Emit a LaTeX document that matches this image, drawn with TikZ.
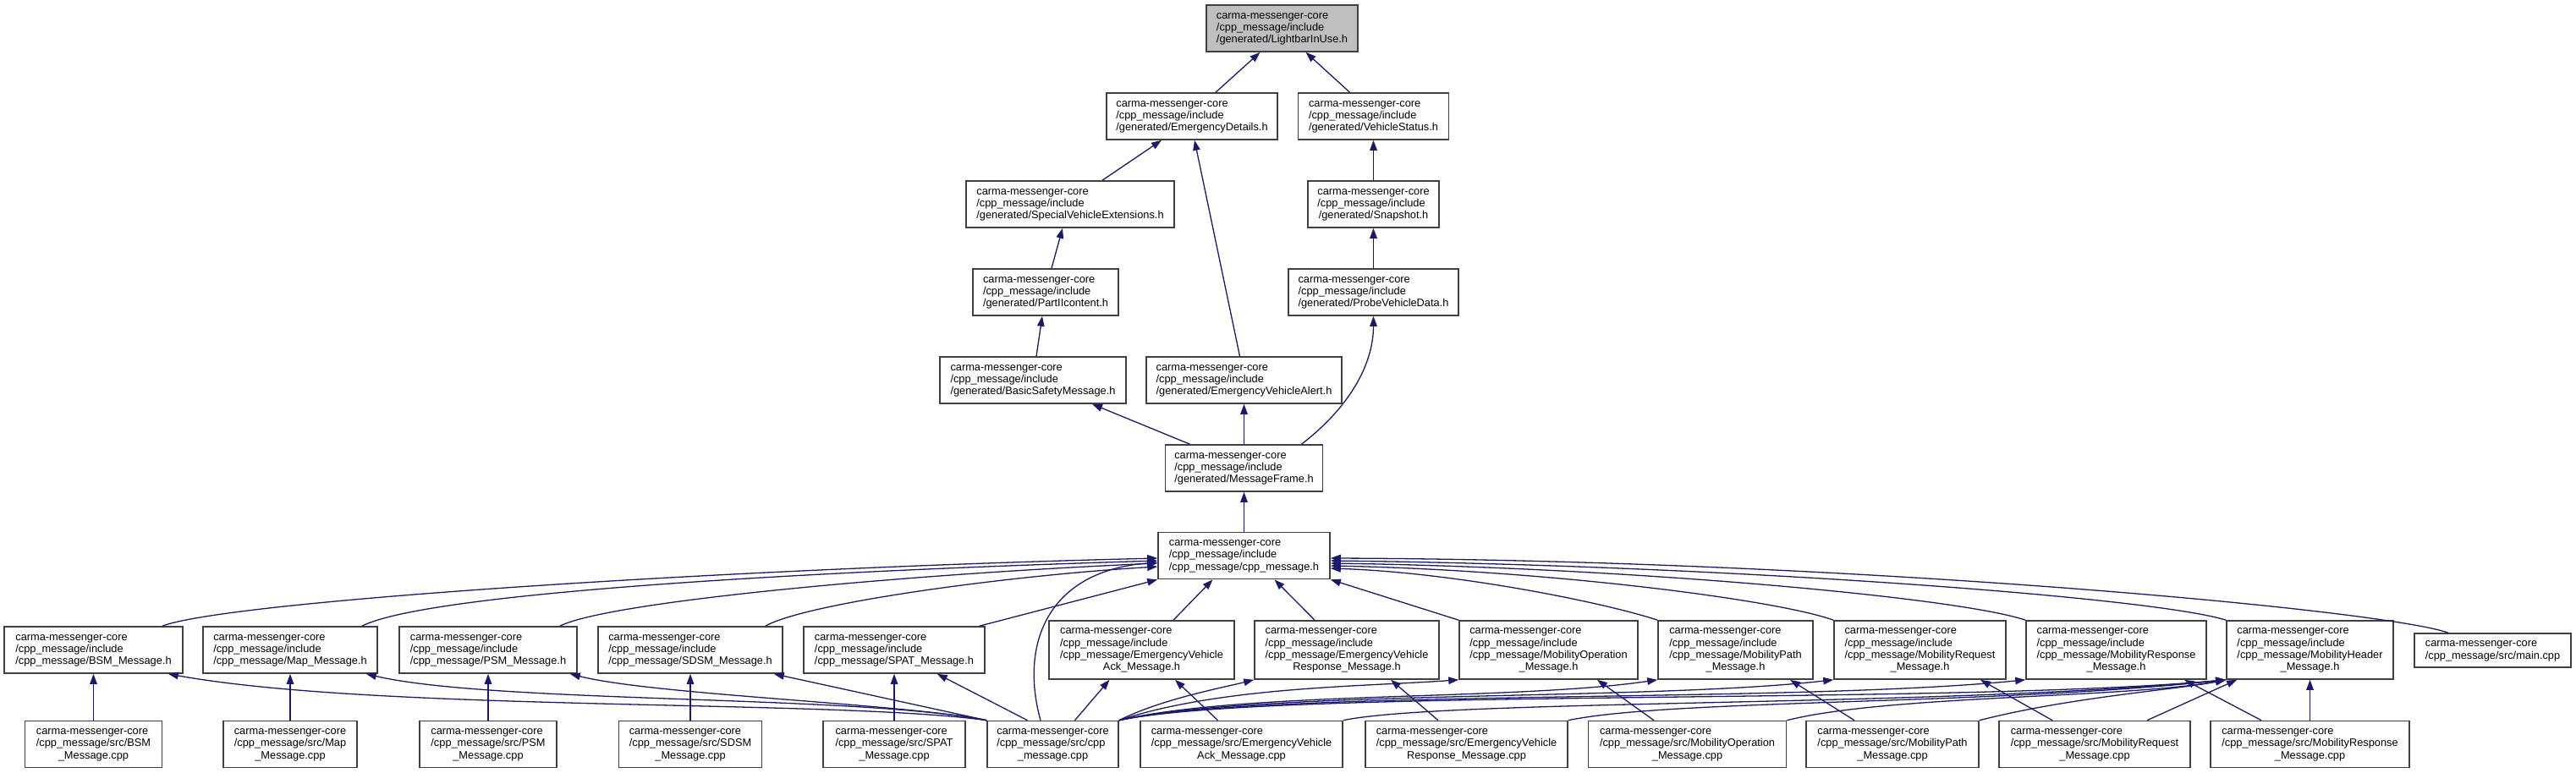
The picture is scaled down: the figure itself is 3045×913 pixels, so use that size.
\documentclass[tikz,border=0pt]{standalone}
\usepackage{fontspec}
\setmainfont{Liberation Sans}
\usepackage{tikz}
\usetikzlibrary{arrows.meta,calc}
\definecolor{incblue}{HTML}{191970}
\newcommand{\flab}[2]{\begin{tabular}{@{}l@{}}#1\\\multicolumn{1}{@{}c@{}}{#2}\end{tabular}}
\tikzset{
  hfile/.style = {rectangle, draw=black!75, line width=1.6pt, fill=white, inner sep=0pt,
                  minimum height=55pt, font=\fontsize{12.8pt}{14.3pt}\selectfont},
  hroot/.style = {hfile, fill=black!25},
  hfour/.style = {hfile, minimum height=69pt},
  htwo/.style  = {hfile, minimum height=40pt},
  inc/.style   = {-{Triangle[length=12pt,width=8.5pt]}, line width=1.3pt, incblue},
}
\begin{document}
\begin{tikzpicture}[x=1pt, y=-1pt]
  \useasboundingbox (0,0) rectangle (3045,913);
  % generated headers
  \node[hroot, minimum width=179pt] (lb) at (1515.5,33.5) {\flab{carma-messenger-core\\/cpp\_message/include}{/generated/LightbarInUse.h}};
  \node[hfile, minimum width=202pt] (ed) at (1409,137.5) {\flab{carma-messenger-core\\/cpp\_message/include}{/generated/EmergencyDetails.h}};
  \node[hfile, minimum width=178pt] (vs) at (1623.5,137.5) {\flab{carma-messenger-core\\/cpp\_message/include}{/generated/VehicleStatus.h}};
  \node[hfile, minimum width=246pt] (sve) at (1265,241.5) {\flab{carma-messenger-core\\/cpp\_message/include}{/generated/SpecialVehicleExtensions.h}};
  \node[hfile, minimum width=155pt] (snap) at (1623.5,241.5) {\flab{carma-messenger-core\\/cpp\_message/include}{/generated/Snapshot.h}};
  \node[hfile, minimum width=172pt] (p2) at (1236,345.5) {\flab{carma-messenger-core\\/cpp\_message/include}{/generated/PartIIcontent.h}};
  \node[hfile, minimum width=201pt] (pvd) at (1623.5,345.5) {\flab{carma-messenger-core\\/cpp\_message/include}{/generated/ProbeVehicleData.h}};
  \node[hfile, minimum width=220pt] (bsmsg) at (1221,449.5) {\flab{carma-messenger-core\\/cpp\_message/include}{/generated/BasicSafetyMessage.h}};
  \node[hfile, minimum width=231pt] (eva) at (1470.5,449.5) {\flab{carma-messenger-core\\/cpp\_message/include}{/generated/EmergencyVehicleAlert.h}};
  \node[hfile, minimum width=186pt] (mf) at (1470.5,553.5) {\flab{carma-messenger-core\\/cpp\_message/include}{/generated/MessageFrame.h}};
  \node[hfile, minimum width=203pt] (cpph) at (1470.5,657) {\flab{carma-messenger-core\\/cpp\_message/include}{/cpp\_message/cpp\_message.h}};
  % message headers
  \node[hfile, minimum width=211pt] (bsmh) at (110.5,768.5) {\flab{carma-messenger-core\\/cpp\_message/include}{/cpp\_message/BSM\_Message.h}};
  \node[hfile, minimum width=206pt] (maph) at (343,768.5) {\flab{carma-messenger-core\\/cpp\_message/include}{/cpp\_message/Map\_Message.h}};
  \node[hfile, minimum width=210pt] (psmh) at (577,768.5) {\flab{carma-messenger-core\\/cpp\_message/include}{/cpp\_message/PSM\_Message.h}};
  \node[hfile, minimum width=218pt] (sdsmh) at (816,768.5) {\flab{carma-messenger-core\\/cpp\_message/include}{/cpp\_message/SDSM\_Message.h}};
  \node[hfile, minimum width=214pt] (spath) at (1057,768.5) {\flab{carma-messenger-core\\/cpp\_message/include}{/cpp\_message/SPAT\_Message.h}};
  \node[hfour, minimum width=219pt] (evackh) at (1349.5,768.5) {\flab{carma-messenger-core\\/cpp\_message/include\\/cpp\_message/EmergencyVehicle}{Ack\_Message.h}};
  \node[hfour, minimum width=218pt] (evresph) at (1592,768.5) {\flab{carma-messenger-core\\/cpp\_message/include\\/cpp\_message/EmergencyVehicle}{Response\_Message.h}};
  \node[hfour, minimum width=211pt] (mobh) at (1830.5,768.5) {\flab{carma-messenger-core\\/cpp\_message/include\\/cpp\_message/MobilityOperation}{\_Message.h}};
  \node[hfour, minimum width=183pt] (mobpathh) at (2051.5,768.5) {\flab{carma-messenger-core\\/cpp\_message/include\\/cpp\_message/MobilityPath}{\_Message.h}};
  \node[hfour, minimum width=203pt] (mobreqh) at (2269.5,768.5) {\flab{carma-messenger-core\\/cpp\_message/include\\/cpp\_message/MobilityRequest}{\_Message.h}};
  \node[hfour, minimum width=213pt] (mobresph) at (2501.5,768.5) {\flab{carma-messenger-core\\/cpp\_message/include\\/cpp\_message/MobilityResponse}{\_Message.h}};
  \node[hfour, minimum width=197pt] (mobhdrh) at (2730.5,768.5) {\flab{carma-messenger-core\\/cpp\_message/include\\/cpp\_message/MobilityHeader}{\_Message.h}};
  \node[htwo, minimum width=185pt] (mainc) at (2946.5,769) {\flab{carma-messenger-core}{/cpp\_message/src/main.cpp}};
  % sources
  \node[hfile, minimum width=162pt] (bsmc) at (110.5,880) {\flab{carma-messenger-core\\/cpp\_message/src/BSM}{\_Message.cpp}};
  \node[hfile, minimum width=158pt] (mapc) at (343,880) {\flab{carma-messenger-core\\/cpp\_message/src/Map}{\_Message.cpp}};
  \node[hfile, minimum width=162pt] (psmc) at (577,880) {\flab{carma-messenger-core\\/cpp\_message/src/PSM}{\_Message.cpp}};
  \node[hfile, minimum width=169pt] (sdsmc) at (816,880) {\flab{carma-messenger-core\\/cpp\_message/src/SDSM}{\_Message.cpp}};
  \node[hfile, minimum width=168pt] (spatc) at (1057,880) {\flab{carma-messenger-core\\/cpp\_message/src/SPAT}{\_Message.cpp}};
  \node[hfile, minimum width=155pt] (cppc) at (1244.5,880) {\flab{carma-messenger-core\\/cpp\_message/src/cpp}{\_message.cpp}};
  \node[hfile, minimum width=239pt] (evackc) at (1467.5,880) {\flab{carma-messenger-core\\/cpp\_message/src/EmergencyVehicle}{Ack\_Message.cpp}};
  \node[hfile, minimum width=239pt] (evrespc) at (1733.5,880) {\flab{carma-messenger-core\\/cpp\_message/src/EmergencyVehicle}{Response\_Message.cpp}};
  \node[hfile, minimum width=234pt] (mobopc) at (1994.5,880) {\flab{carma-messenger-core\\/cpp\_message/src/MobilityOperation}{\_Message.cpp}};
  \node[hfile, minimum width=204pt] (mobpathc) at (2237,880) {\flab{carma-messenger-core\\/cpp\_message/src/MobilityPath}{\_Message.cpp}};
  \node[hfile, minimum width=226pt] (mobreqc) at (2476,880) {\flab{carma-messenger-core\\/cpp\_message/src/MobilityRequest}{\_Message.cpp}};
  \node[hfile, minimum width=235pt] (mobrespc) at (2730.5,880) {\flab{carma-messenger-core\\/cpp\_message/src/MobilityResponse}{\_Message.cpp}};

  % upper part
  \draw[inc] ($(ed.north)+(28,0)$) -- ($(lb.south)+(-26,0)$);
  \draw[inc] ($(vs.north)+(-28,0)$) -- ($(lb.south)+(28,0)$);
  \draw[inc] ($(sve.north)+(38,0)$) -- ($(ed.south)+(-36,0)$);
  \draw[inc] ($(eva.north)+(-5,0)$) -- ($(ed.south)+(3,0)$);
  \draw[inc] (snap.north) -- (vs.south);
  \draw[inc] ($(p2.north)+(7,0)$) -- ($(sve.south)+(-9,0)$);
  \draw[inc] (pvd.north) -- (snap.south);
  \draw[inc] ($(bsmsg.north)+(4,0)$) -- ($(p2.south)+(-4,0)$);
  \draw[inc] ($(mf.north)+(68,0)$) .. controls +(62,-48) and +(0,52) .. (pvd.south);
  \draw[inc] ($(mf.north)+(-64,0)$) -- ($(bsmsg.south)+(70,0)$);
  \draw[inc] (mf.north) -- (eva.south);
  \draw[inc] (cpph.north) -- (mf.south);

  % into cpp_message.h
  \draw[inc] ($(bsmh.north east)+(-25,0)$) .. controls +(80,-30) and +(-500,12) .. ($(cpph.west)+(0,3)$);
  \draw[inc] ($(maph.north east)+(-19,0)$) .. controls +(80,-40) and +(-400,12) .. ($(cpph.west)+(0,6)$);
  \draw[inc] ($(psmh.north east)+(-21,0)$) .. controls +(60,-30) and +(-280,12) .. ($(cpph.west)+(0,9)$);
  \draw[inc] ($(sdsmh.north east)+(-21,0)$) .. controls +(50,-28) and +(-170,10) .. ($(cpph.west)+(0,13)$);
  \draw[inc] ($(spath.north east)+(-7,0)$) -- (cpph.south west);
  \draw[inc] ($(cppc.north)+(-14.5,0)$) .. controls +(-25,-90) and +(-130,10) .. ($(cpph.west)+(0,8)$);
  \draw[inc] ($(evackh.north)+(37.5,0)$) -- ($(cpph.south)+(-37,0)$);
  \draw[inc] ($(evresph.north)+(-38,0)$) -- ($(cpph.south)+(36,0)$);
  \draw[inc] (mobh.north west) -- (cpph.south east);
  \draw[inc] (mobpathh.north west) .. controls +(-60,-20) and +(150,5) .. ($(cpph.east)+(0,15)$);
  \draw[inc] (mobreqh.north west) .. controls +(-70,-25) and +(250,5) .. ($(cpph.east)+(0,12)$);
  \draw[inc] (mobresph.north west) .. controls +(-80,-27) and +(350,5) .. ($(cpph.east)+(0,9)$);
  \draw[inc] (mobhdrh.north west) .. controls +(-90,-28) and +(450,5) .. ($(cpph.east)+(0,6)$);
  \draw[inc] ($(mainc.north)+(-52.5,0)$) .. controls +(-80,-28) and +(600,2) .. ($(cpph.east)+(0,3)$);

  % sources into headers
  \draw[inc] (bsmc.north) -- (bsmh.south);
  \draw[inc] (mapc.north) -- (maph.south);
  \draw[inc] (psmc.north) -- (psmh.south);
  \draw[inc] (sdsmc.north) -- (sdsmh.south);
  \draw[inc] (spatc.north) -- (spath.south);
  \draw[inc] (cppc.north west) .. controls +(-180,-25) and +(250,45) .. ($(bsmh.south east)+(-18,0)$);
  \draw[inc] (cppc.north west) .. controls +(-150,-30) and +(150,35) .. ($(maph.south east)+(-14,0)$);
  \draw[inc] (cppc.north west) .. controls +(-100,-20) and +(100,25) .. ($(psmh.south east)+(-9,0)$);
  \draw[inc] (cppc.north west) -- ($(sdsmh.south east)+(-11,0)$);
  \draw[inc] ($(cppc.north)+(-30,0)$) -- ($(spath.south east)+(-57,0)$);
  \draw[inc] ($(cppc.north)+(26,0)$) -- ($(evackh.south)+(-38,0)$);
  \draw[inc] ($(evackc.north)+(-28,0)$) -- ($(evackh.south)+(39.5,0)$);
  \draw[inc] (cppc.north east) .. controls +(50,-25) and +(-40,10) .. (evresph.south west);
  \draw[inc] ($(evrespc.north)+(-33.5,0)$) -- ($(evresph.south)+(52,0)$);
  \draw[inc] (cppc.north east) .. controls +(120,-40) and +(-110,8) .. (mobh.south west);
  \draw[inc] ($(mobopc.north)+(-39.5,0)$) -- ($(mobh.south)+(57.5,0)$);
  \draw[inc] (cppc.north east) .. controls +(150,-35) and +(-170,25) .. (mobpathh.south west);
  \draw[inc] ($(mobpathc.north)+(-45,0)$) -- ($(mobpathh.south)+(64.5,0)$);
  \draw[inc] (cppc.north east) .. controls +(160,-36) and +(-220,25) .. (mobreqh.south west);
  \draw[inc] ($(mobreqc.north)+(-50,0)$) -- ($(mobreqh.south)+(71.5,0)$);
  \draw[inc] (cppc.north east) .. controls +(170,-37) and +(-280,28) .. (mobresph.south west);
  \draw[inc] ($(mobrespc.north)+(-57.5,0)$) -- ($(mobresph.south)+(80.5,0)$);
  \draw[inc] (cppc.north east) .. controls +(180,-38) and +(-330,30) .. (mobhdrh.south west);
  \draw[inc] (evackc.north east) .. controls +(120,-25) and +(-330,32) .. (mobhdrh.south west);
  \draw[inc] (evrespc.north east) .. controls +(120,-25) and +(-280,30) .. (mobhdrh.south west);
  \draw[inc] (mobopc.north east) .. controls +(120,-30) and +(-120,22) .. (mobhdrh.south west);
  \draw[inc] (mobpathc.north east) .. controls +(110,-28) and +(-60,12) .. (mobhdrh.south west);
  \draw[inc] ($(mobreqc.north)+(62,0)$) -- ($(mobhdrh.south)+(-86.5,0)$);
  \draw[inc] (mobrespc.north) -- (mobhdrh.south);
\end{tikzpicture}
\end{document}
